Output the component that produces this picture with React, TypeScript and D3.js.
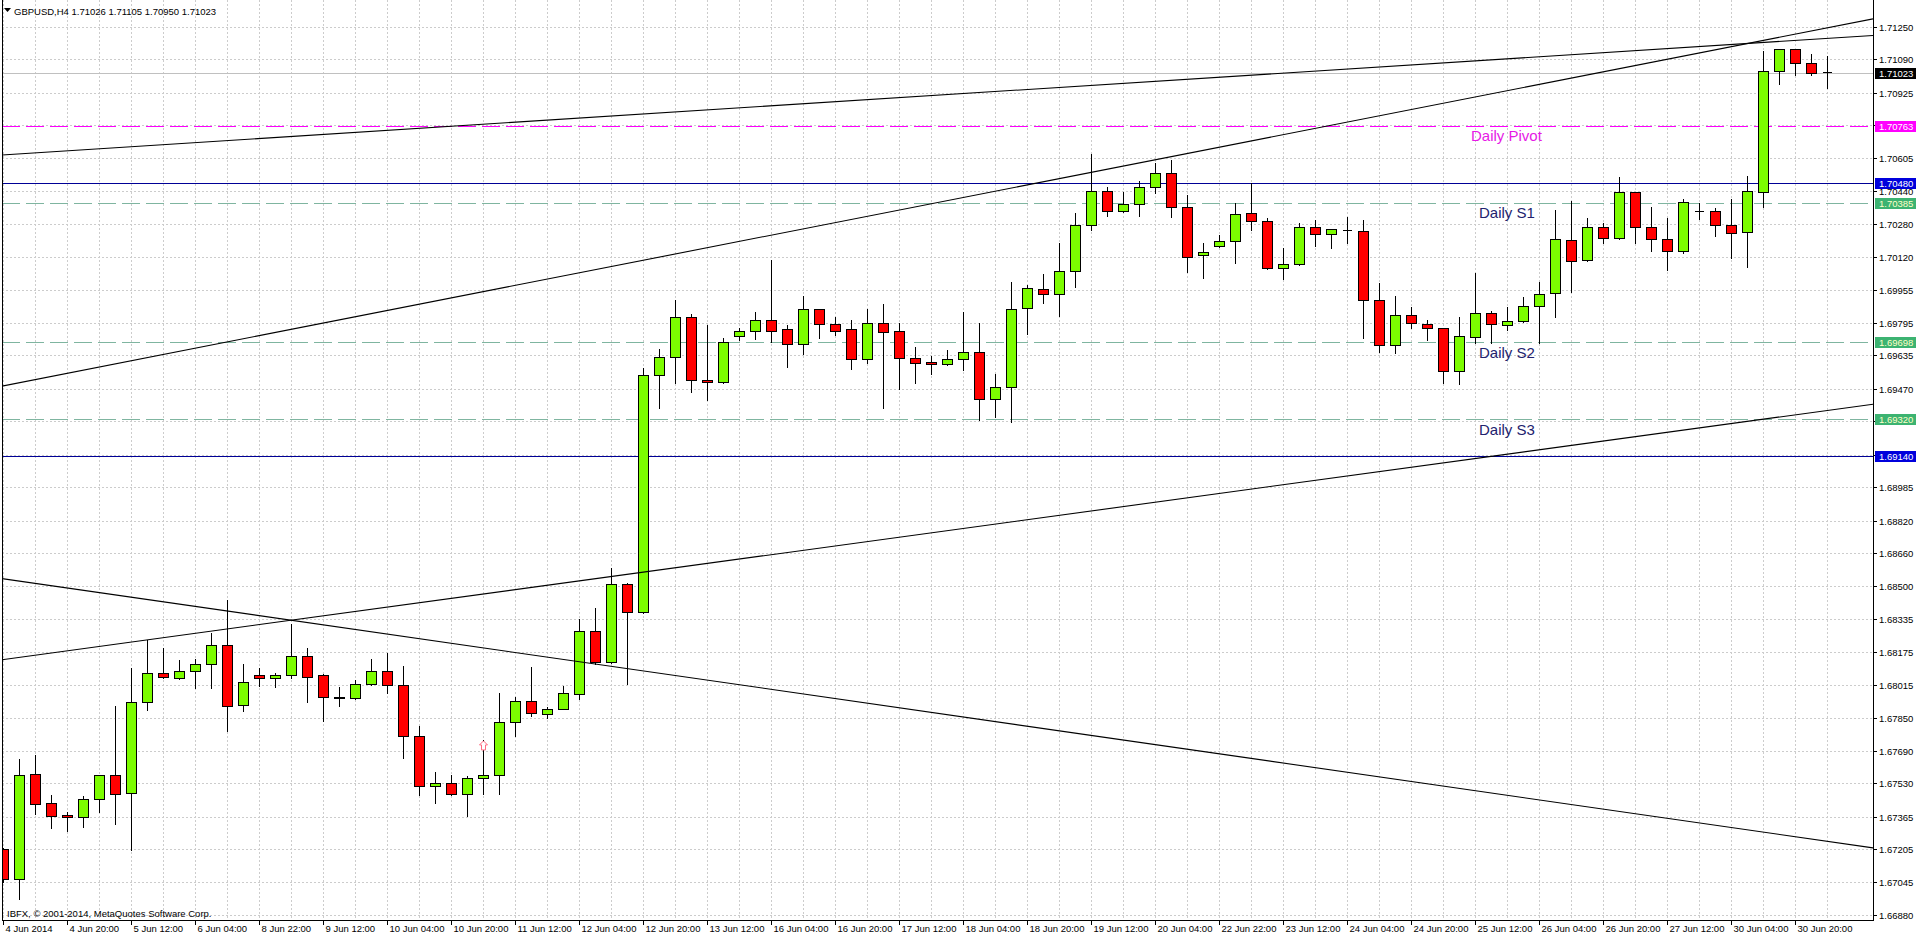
import React from 'react';
import * as d3 from 'd3';

const headerText = 'GBPUSD,H4  1.71026 1.71105 1.70950 1.71023';
const copyrightText = 'IBFX, \u00a9 2001-2014, MetaQuotes Software Corp.';

const opens = [
  1.67205, 1.67057, 1.67574, 1.67431, 1.67373, 1.67362, 1.67451, 1.67569, 1.67480, 1.67928,
  1.68070, 1.68046, 1.68080, 1.68115, 1.68208, 1.67913, 1.68061, 1.68046, 1.68061, 1.68154,
  1.68062, 1.67956, 1.67950, 1.68017, 1.68084, 1.68011, 1.67764, 1.67517, 1.67531, 1.67475,
  1.67554, 1.67572, 1.67833, 1.67934, 1.67871, 1.67896, 1.67967, 1.68276, 1.68124, 1.68509,
  1.68371, 1.69536, 1.69627, 1.69823, 1.69513, 1.69504, 1.69728, 1.69755, 1.69806, 1.69762,
  1.69688, 1.69861, 1.69787, 1.69762, 1.69618, 1.69792, 1.69752, 1.69620, 1.69600, 1.69590,
  1.69615, 1.69649, 1.69418, 1.69480, 1.69868, 1.69962, 1.69934, 1.70047, 1.70274, 1.70441,
  1.70343, 1.70378, 1.70461, 1.70529, 1.70362, 1.70126, 1.70173, 1.70195, 1.70333, 1.70293,
  1.70062, 1.70082, 1.70264, 1.70229, 1.70252, 1.70246, 1.69906, 1.69685, 1.69831, 1.69788,
  1.69767, 1.69559, 1.69723, 1.69841, 1.69782, 1.69801, 1.69877, 1.69939, 1.70201, 1.70103,
  1.70267, 1.70210, 1.70436, 1.70264, 1.70205, 1.70149, 1.70344, 1.70344, 1.70274, 1.70239,
  1.70436, 1.71034, 1.71141, 1.71070, 1.71026,
];
const highs = [
  1.67210, 1.67647, 1.67669, 1.67470, 1.67388, 1.67467, 1.67569, 1.67911, 1.68098, 1.68234,
  1.68193, 1.68136, 1.68139, 1.68270, 1.68431, 1.68115, 1.68098, 1.68070, 1.68311, 1.68193,
  1.68066, 1.68003, 1.68037, 1.68143, 1.68169, 1.68108, 1.67809, 1.67586, 1.67572, 1.67565,
  1.67744, 1.67971, 1.67956, 1.68102, 1.67906, 1.68007, 1.68337, 1.68392, 1.68590, 1.68512,
  1.69570, 1.69664, 1.69906, 1.69839, 1.69783, 1.69718, 1.69767, 1.69847, 1.70103, 1.69783,
  1.69926, 1.69864, 1.69824, 1.69806, 1.69864, 1.69885, 1.69795, 1.69674, 1.69631, 1.69660,
  1.69846, 1.69795, 1.69541, 1.69996, 1.69979, 1.70034, 1.70185, 1.70336, 1.70624, 1.70463,
  1.70437, 1.70493, 1.70579, 1.70595, 1.70421, 1.70185, 1.70224, 1.70385, 1.70480, 1.70308,
  1.70161, 1.70283, 1.70300, 1.70256, 1.70313, 1.70300, 1.69988, 1.69926, 1.69873, 1.69808,
  1.69770, 1.69821, 1.70038, 1.69854, 1.69873, 1.69920, 1.69993, 1.70349, 1.70392, 1.70308,
  1.70283, 1.70513, 1.70439, 1.70365, 1.70311, 1.70402, 1.70385, 1.70357, 1.70403, 1.70518,
  1.71129, 1.71143, 1.71143, 1.71116, 1.71105,
];
const lows = [
  1.67044, 1.66959, 1.67378, 1.67308, 1.67296, 1.67316, 1.67387, 1.67329, 1.67201, 1.67890,
  1.68046, 1.68040, 1.67997, 1.67999, 1.67788, 1.67886, 1.68008, 1.68002, 1.68046, 1.67928,
  1.67835, 1.67910, 1.67946, 1.68015, 1.67971, 1.67653, 1.67470, 1.67430, 1.67470, 1.67370,
  1.67477, 1.67477, 1.67764, 1.67860, 1.67849, 1.67893, 1.67946, 1.68118, 1.68120, 1.68018,
  1.68365, 1.69377, 1.69497, 1.69455, 1.69414, 1.69500, 1.69710, 1.69713, 1.69700, 1.69575,
  1.69642, 1.69718, 1.69733, 1.69568, 1.69595, 1.69377, 1.69467, 1.69500, 1.69541, 1.69587,
  1.69562, 1.69316, 1.69332, 1.69306, 1.69739, 1.69890, 1.69828, 1.69969, 1.70251, 1.70319,
  1.70340, 1.70321, 1.70431, 1.70316, 1.70045, 1.70016, 1.70165, 1.70087, 1.70251, 1.70058,
  1.70008, 1.70080, 1.70173, 1.70161, 1.70185, 1.69718, 1.69652, 1.69644, 1.69767, 1.69710,
  1.69500, 1.69495, 1.69693, 1.69696, 1.69759, 1.69798, 1.69693, 1.69821, 1.69946, 1.70098,
  1.70185, 1.70207, 1.70185, 1.70147, 1.70054, 1.70136, 1.70303, 1.70221, 1.70111, 1.70067,
  1.70362, 1.70967, 1.71011, 1.71011, 1.70950,
];
const closes = [
  1.67057, 1.67569, 1.67429, 1.67370, 1.67362, 1.67451, 1.67569, 1.67475, 1.67928, 1.68070,
  1.68051, 1.68080, 1.68115, 1.68208, 1.67910, 1.68026, 1.68046, 1.68061, 1.68154, 1.68051,
  1.67956, 1.67951, 1.68017, 1.68084, 1.68013, 1.67764, 1.67517, 1.67529, 1.67477, 1.67554,
  1.67572, 1.67833, 1.67934, 1.67875, 1.67896, 1.67971, 1.68276, 1.68124, 1.68509, 1.68371,
  1.69536, 1.69627, 1.69823, 1.69513, 1.69502, 1.69700, 1.69752, 1.69806, 1.69755, 1.69688,
  1.69861, 1.69787, 1.69755, 1.69618, 1.69792, 1.69750, 1.69623, 1.69598, 1.69590, 1.69615,
  1.69649, 1.69418, 1.69480, 1.69863, 1.69964, 1.69936, 1.70047, 1.70274, 1.70441, 1.70343,
  1.70378, 1.70461, 1.70529, 1.70362, 1.70119, 1.70141, 1.70195, 1.70328, 1.70295, 1.70062,
  1.70082, 1.70264, 1.70229, 1.70254, 1.70252, 1.69906, 1.69685, 1.69831, 1.69792, 1.69767,
  1.69559, 1.69729, 1.69841, 1.69787, 1.69801, 1.69877, 1.69934, 1.70205, 1.70098, 1.70267,
  1.70210, 1.70436, 1.70267, 1.70208, 1.70146, 1.70387, 1.70344, 1.70274, 1.70234, 1.70441,
  1.71034, 1.71141, 1.71070, 1.71024, 1.71023,
];

const timeLabels = [
  '4 Jun 2014', '4 Jun 20:00', '5 Jun 12:00', '6 Jun 04:00', '8 Jun 22:00', '9 Jun 12:00',
  '10 Jun 04:00', '10 Jun 20:00', '11 Jun 12:00', '12 Jun 04:00', '12 Jun 20:00', '13 Jun 12:00',
  '16 Jun 04:00', '16 Jun 20:00', '17 Jun 12:00', '18 Jun 04:00', '18 Jun 20:00', '19 Jun 12:00',
  '20 Jun 04:00', '22 Jun 22:00', '23 Jun 12:00', '24 Jun 04:00', '24 Jun 20:00', '25 Jun 12:00',
  '26 Jun 04:00', '26 Jun 20:00', '27 Jun 12:00', '30 Jun 04:00', '30 Jun 20:00',
];
const barsPerTimeLabel = 4;
const barsPerVerticalGrid = 2;

const priceTicks = [
  '1.71250', '1.71090', '1.70925', '1.70765', '1.70605', '1.70440', '1.70280', '1.70120',
  '1.69955', '1.69795', '1.69635', '1.69470', '1.69310', '1.69145', '1.68985', '1.68820',
  '1.68660', '1.68500', '1.68335', '1.68175', '1.68015', '1.67850', '1.67690', '1.67530',
  '1.67365', '1.67205', '1.67045', '1.66880',
];

// horizontal level lines
const levelPrices = [1.70763, 1.70480, 1.70385, 1.69698, 1.69320, 1.69140];
const levelNames = ['Daily Pivot', '', 'Daily S1', 'Daily S2', 'Daily S3', ''];
const levelKinds = ['pivot', 'level', 'support', 'support', 'support', 'level'];

// trend lines: anchors at two bars
const trendBarA = 0;
const trendBarB = 110;
const trendPricesA = [1.70620, 1.69484, 1.68138, 1.68535];
const trendPricesB = [1.71173, 1.71183, 1.69320, 1.67289];

const bidPrice = 1.71023;
const arrowBar = 30;
const arrowPrice = 1.67713;

const FONT = '"Liberation Sans", Arial, sans-serif';

const kindStyle: Record<string, { stroke: string; dash?: string; box: string; text: string; label: string; labelX: number }> = {
  pivot: { stroke: '#ff00ff', dash: '18,6', box: '#ff00ff', text: '#ffffff', label: '#e619e6', labelX: 1471 },
  level: { stroke: '#000096', box: '#0000dc', text: '#ffffff', label: '#000', labelX: 1479 },
  support: { stroke: '#7fb5a0', dash: '18,6', box: '#3cb371', text: '#ffffc8', label: '#22226e', labelX: 1479 },
};

export default function App() {
  const W = 1916;
  const H = 939;
  const left = 2;
  const right = 1873;
  const bottom = 920;
  const n = opens.length;

  const x = d3.scaleLinear().domain([0, n - 1]).range([3.33, 3.33 + 16 * (n - 1)]);
  const y = d3.scaleLinear().domain([1.6688, 1.7125]).range([915.3, 26.8]);

  const crisp = (v: number) => Math.round(v) + 0.5;

  const gridV: number[] = [];
  for (let i = 0; i < n; i += barsPerVerticalGrid) gridV.push(i);

  const trendLine = d3.line<[number, number]>().x((d) => d[0]).y((d) => d[1]);

  return (
    <div style={{ position: 'fixed', left: 0, top: 0, width: W, height: H, background: '#fff' }}>
      <svg width={W} height={H} style={{ display: 'block' }} fontFamily={FONT}>
        <defs>
          <clipPath id="plot">
            <rect x={left} y={0} width={right - left} height={bottom} />
          </clipPath>
        </defs>
        <rect x={0} y={0} width={W} height={H} fill="#ffffff" />

        {/* grid */}
        <g stroke="#cccccc" strokeWidth={1} strokeDasharray="2,2" shapeRendering="crispEdges">
          {priceTicks.map((t) => (
            <line key={'h' + t} x1={left} x2={right} y1={crisp(y(+t))} y2={crisp(y(+t))} />
          ))}
          {gridV.map((i) => (
            <line key={'v' + i} x1={crisp(x(i))} x2={crisp(x(i))} y1={0} y2={bottom} />
          ))}
        </g>

        {/* bid line */}
        <line x1={left} x2={right} y1={crisp(y(bidPrice))} y2={crisp(y(bidPrice))} stroke="#c0c0c0" shapeRendering="crispEdges" />

        {/* horizontal level lines */}
        <g clipPath="url(#plot)" shapeRendering="crispEdges">
          {levelPrices.map((p, k) => {
            const s = kindStyle[levelKinds[k]];
            return (
              <line key={'l' + k} x1={left} x2={right} y1={crisp(y(p))} y2={crisp(y(p))} stroke={s.stroke} strokeDasharray={s.dash} />
            );
          })}
        </g>

        {/* candles */}
        <g shapeRendering="crispEdges" clipPath="url(#plot)">
          {opens.map((o, i) => {
            const c = closes[i];
            const cx = Math.round(x(i));
            const yH = y(highs[i]);
            const yL = y(lows[i]);
            const yO = y(o);
            const yC = y(c);
            const doji = Math.abs(o - c) < 0.00004;
            const top = Math.round(Math.min(yO, yC));
            const bot = Math.round(Math.max(yO, yC));
            return (
              <g key={'c' + i}>
                <line x1={cx + 0.5} x2={cx + 0.5} y1={Math.round(yH)} y2={Math.round(yL) + 1} stroke="#000" />
                {doji ? (
                  <line x1={cx - 4} x2={cx + 5} y1={crisp(yO)} y2={crisp(yO)} stroke="#000" />
                ) : (
                  <rect
                    x={cx - 4.5}
                    y={top + 0.5}
                    width={10}
                    height={Math.max(1, bot - top)}
                    fill={c > o ? '#7cfc00' : '#ff0000'}
                    stroke="#000"
                  />
                )}
              </g>
            );
          })}
        </g>

        {/* trend lines */}
        <g clipPath="url(#plot)">
          {trendPricesA.map((pa, k) => {
            const pb = trendPricesB[k];
            const sl = (pb - pa) / (trendBarB - trendBarA);
            const i0 = x.invert(left);
            const i1 = x.invert(right);
            const pts: [number, number][] = [
              [left, y(pa + sl * (i0 - trendBarA))],
              [right, y(pa + sl * (i1 - trendBarA))],
            ];
            return <path key={'t' + k} d={trendLine(pts) || ''} stroke="#000" strokeWidth={1.1} fill="none" />;
          })}
        </g>

        {/* arrow marker */}
        <g transform={`translate(${Math.round(x(arrowBar)) + 0.5},${y(arrowPrice)})`}>
          <path d="M0,-5 L4,-1 L2,-1 L2,4 L-2,4 L-2,-1 L-4,-1 Z" fill="#fff" stroke="#ff6a80" strokeWidth={1} />
        </g>

        {/* level text labels */}
        {levelPrices.map((p, k) => {
          const s = kindStyle[levelKinds[k]];
          return levelNames[k] ? (
            <text key={'n' + k} x={s.labelX} y={y(p) + 15.5} fontSize={15} fill={s.label}>
              {levelNames[k]}
            </text>
          ) : null;
        })}

        {/* frame */}
        <g stroke="#000" shapeRendering="crispEdges">
          <line x1={left + 0.5} x2={left + 0.5} y1={0} y2={bottom} />
          <line x1={right + 0.5} x2={right + 0.5} y1={0} y2={bottom + 1} />
          <line x1={left} x2={right + 1} y1={bottom + 0.5} y2={bottom + 0.5} />
        </g>

        {/* price axis */}
        <g fontSize={9.5} fill="#000">
          {priceTicks.map((t) => {
            const yy = crisp(y(+t));
            return (
              <g key={'pt' + t}>
                <line x1={right} x2={right + 4} y1={yy} y2={yy} stroke="#000" shapeRendering="crispEdges" />
                <text x={1879} y={yy + 3.5}>{t}</text>
              </g>
            );
          })}
        </g>

        {/* level boxes on axis */}
        {levelPrices.map((p, k) => {
          const s = kindStyle[levelKinds[k]];
          const yy = Math.round(y(p));
          return (
            <g key={'b' + k}>
              <rect x={1875} y={yy - 5} width={41} height={11} fill={s.box} />
              <text x={1879} y={yy + 4} fontSize={9.5} fill={s.text}>{p.toFixed(5)}</text>
            </g>
          );
        })}
        <g>
          <rect x={1875} y={Math.round(y(bidPrice)) - 5} width={41} height={11} fill="#000" />
          <text x={1879} y={Math.round(y(bidPrice)) + 4} fontSize={9.5} fill="#fff">{bidPrice.toFixed(5)}</text>
        </g>

        {/* time axis */}
        <g fontSize={9.5} fill="#000">
          {timeLabels.map((t, k) => {
            const xx = crisp(x(k * barsPerTimeLabel));
            return (
              <g key={'tl' + k}>
                <line x1={xx} x2={xx} y1={bottom} y2={bottom + 5} stroke="#000" shapeRendering="crispEdges" />
                <text x={xx + 2} y={931.5}>{t}</text>
              </g>
            );
          })}
        </g>

        {/* header */}
        <path d="M4,8 L11,8 L7.5,12 Z" fill="#000" />
        <text x={14} y={14.5} fontSize={9.5} fill="#000">{headerText}</text>
        <text x={7} y={916.5} fontSize={9.5} fill="#000">{copyrightText}</text>
      </svg>
    </div>
  );
}
